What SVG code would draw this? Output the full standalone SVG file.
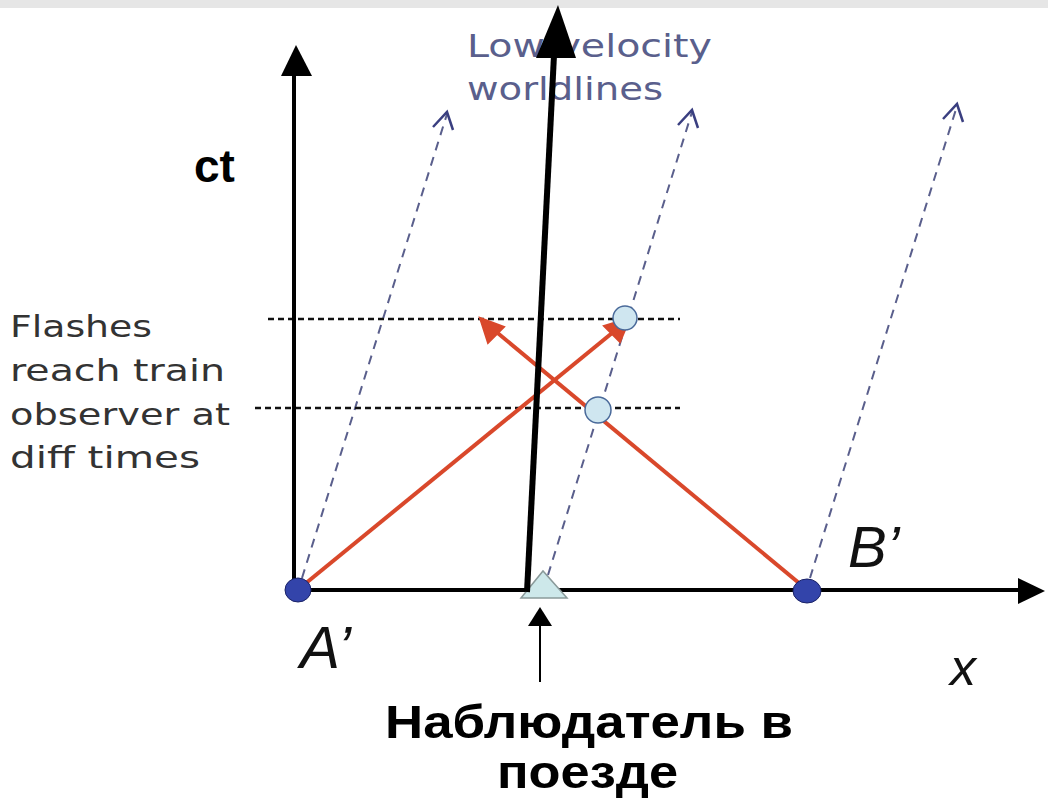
<svg xmlns="http://www.w3.org/2000/svg" width="1048" height="805" viewBox="0 0 1048 805">
<style>
.wl{stroke:#5a5f8c;stroke-width:2;stroke-dasharray:9,7;fill:none}
.wlh{stroke:#3a3f80;stroke-width:2.5;fill:none}
.dot{stroke:#111;stroke-width:2.5;stroke-dasharray:6,4;fill:none}
.red{stroke:#d9482b;stroke-width:4;fill:none}
.lbl{font-family:"DejaVu Sans","Open Sans",sans-serif;fill:#333}
.lv{font-family:"DejaVu Sans","Open Sans",sans-serif;fill:#5a5f8c}
.it{font-family:"Liberation Sans",Arial,sans-serif;font-style:italic;fill:#111}
.bold{font-family:"Liberation Sans",Arial,sans-serif;font-weight:bold;fill:#000}
</style>
<rect x="0" y="0" width="1048" height="805" fill="#fff"/>
<rect x="0" y="0" width="1048" height="8" fill="#e6e6e6"/>

<g id="texts">
<text class="lv" x="467" y="57" font-size="32" textLength="245" lengthAdjust="spacingAndGlyphs">Low velocity</text>
<text class="lv" x="467" y="100" font-size="32" textLength="196" lengthAdjust="spacingAndGlyphs">worldlines</text>
<text class="lbl" x="10" y="337" font-size="31" textLength="142" lengthAdjust="spacingAndGlyphs">Flashes</text>
<text class="lbl" x="10" y="381" font-size="31" textLength="215" lengthAdjust="spacingAndGlyphs">reach train</text>
<text class="lbl" x="10" y="425" font-size="31" textLength="220" lengthAdjust="spacingAndGlyphs">observer at</text>
<text class="lbl" x="10" y="468" font-size="31" textLength="190" lengthAdjust="spacingAndGlyphs">diff times</text>
<text class="bold" x="194" y="182" font-size="46">ct</text>
</g>

<g id="connectors">
<line class="wl" x1="302" y1="578" x2="447" y2="114"/>
<path class="wlh" d="M433,127 L447,112 L453,130"/>
<line class="wl" x1="548" y1="575" x2="692" y2="112"/>
<path class="wlh" d="M678,125 L692,110 L698,128"/>
<line class="wl" x1="810" y1="578" x2="957" y2="106"/>
<path class="wlh" d="M943,119 L957,104 L963,122"/>
<line class="dot" x1="268" y1="319" x2="680" y2="319"/>
<line class="dot" x1="255" y1="408" x2="680" y2="408"/>
<line class="red" x1="300" y1="588" x2="628" y2="320"/>
<path d="M630,318 L604,326 L620,342 Z" fill="#d9482b" stroke="#d9482b" stroke-width="2"/>
<line class="red" x1="805" y1="588" x2="482" y2="320"/>
<path d="M480,318 L488,343 L504,327 Z" fill="#d9482b" stroke="#d9482b" stroke-width="2"/>
<line x1="294" y1="592" x2="294" y2="70" stroke="#000" stroke-width="4"/>
<path d="M296,45 L281,76 L312,76 Z" fill="#000"/>
<line x1="292" y1="590" x2="1020" y2="590" stroke="#000" stroke-width="4"/>
<path d="M1045,591 L1018,578 L1018,604 Z" fill="#000"/>
<line x1="540" y1="682" x2="540" y2="620" stroke="#000" stroke-width="2"/>
<path d="M540,607 L528,626 L552,626 Z" fill="#000"/>
</g>

<g id="circles">
<circle cx="625" cy="318" r="12" fill="#cfe6f0" stroke="#4a6a9a" stroke-width="1.5"/>
<circle cx="598" cy="410" r="13" fill="#cfe6f0" stroke="#4a6a9a" stroke-width="1.5"/>
</g>

<g id="nodeA">
<ellipse cx="298" cy="590" rx="13" ry="12" fill="#3344aa" stroke="#1a2266" stroke-width="1"/>
<text class="it" x="300" y="668" font-size="60">A’</text>
</g>
<g id="nodeB">
<ellipse cx="807" cy="591" rx="14" ry="12" fill="#3344aa" stroke="#1a2266" stroke-width="1"/>
<text class="it" x="848" y="567" font-size="58">B’</text>
</g>
<g id="observer">
<path d="M521,598 L543,571 L567,598 Z" fill="#cde8ea" stroke="#8a9a9a" stroke-width="1.5"/>
</g>
<g id="observerArrow">
<line x1="527" y1="592" x2="554" y2="55" stroke="#000" stroke-width="6"/>
<path d="M558,5 L536,58 L576,58 Z" fill="#000"/>
</g>
<g id="xlabel">
<text class="it" x="950" y="685" font-size="52">x</text>
</g>
<g id="caption">
<text class="bold" x="385" y="738" font-size="47" textLength="408" lengthAdjust="spacingAndGlyphs">Наблюдатель в</text>
<text class="bold" x="497" y="788" font-size="47" textLength="181" lengthAdjust="spacingAndGlyphs">поезде</text>
</g>
</svg>
